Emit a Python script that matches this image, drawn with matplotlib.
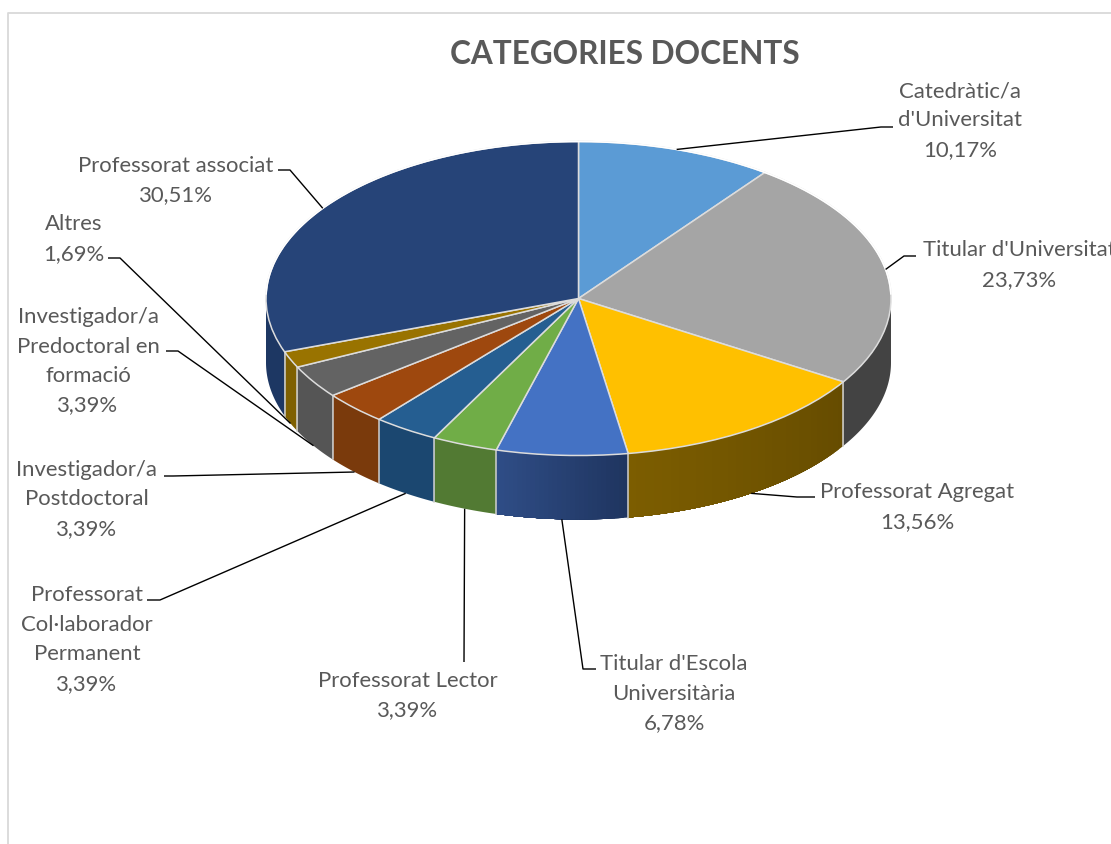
import numpy as np
import matplotlib
matplotlib.use('Agg')
import matplotlib.pyplot as plt
from matplotlib.colors import to_rgb

W, H = 1111, 845

categories = ['Catedràtic/a\nd\'Universitat', 'Titular d\'Universitat', 'Professorat Agregat',
              'Titular d\'Escola\nUniversitària', 'Professorat Lector',
              'Professorat\nCol·laborador\nPermanent', 'Investigador/a\nPostdoctoral',
              'Investigador/a\nPredoctoral en\nformació', 'Altres', 'Professorat associat']
values = [10.17, 23.73, 13.56, 6.78, 3.39, 3.39, 3.39, 3.39, 1.69, 30.51]
value_labels = ['10,17%', '23,73%', '13,56%', '6,78%', '3,39%', '3,39%', '3,39%', '3,39%', '1,69%', '30,51%']

top_colors = ['#5B9BD5', '#A5A5A5', '#FFC000', '#4472C4', '#70AD47',
              '#255E91', '#9E480E', '#636363', '#997300', '#264478']
# wall colours, right end and left end of each slice's side
wall_right = ['#37608a', '#434343', '#664c00', '#1f3560', '#527a33',
              '#1b4770', '#7a3a0c', '#555555', '#7f6000', '#1d3763']
wall_left = ['#37608a', '#434343', '#7c5d00', '#2f4d86', '#527a33',
             '#1b4770', '#7a3a0c', '#555555', '#7f6000', '#1d3763']

# pie geometry in picture pixels
cx, cy, rx, ry, depth = 578.5, 299.5, 312.5, 157, 64

# x centre, y of each line
label_pos = [(960, [90, 119, 149]), (1019, [249, 279]), (917, [491, 521]),
             (674, [663, 693, 722]), (408, [680, 709]), (87, [594, 624, 653, 683]),
             (87, [469, 498, 528]), (88, [316, 346, 375, 404]), (74, [223, 253]), (176, [165, 194])]
# leader line after it leaves the slice
leader_pts = [[(881, 128), (893, 128)], [(904, 257), (916, 257)], [(797, 498), (815, 498)],
              [(583, 670), (596, 670)], [(464, 663)], [(160, 601), (147, 601)],
              [(173, 477), (164, 477)], [(178, 352), (166, 352)], [(120, 259), (108, 259)],
              [(290, 171), (278, 171)]]

plt.rcParams['font.family'] = ['Lato', 'DejaVu Sans']
fig = plt.figure(figsize=(W / 100, H / 100), dpi=100, facecolor='white')

# the pie axes covers exactly the top ellipse
ax = fig.add_axes([(cx - rx) / W, 1 - (cy + ry) / H, 2 * rx / W, 2 * ry / H])
ax.pie(values, colors=top_colors, startangle=90, counterclock=False, radius=1,
       wedgeprops={'edgecolor': '#dcdcdc', 'linewidth': 1.1, 'zorder': 5})
ax.set_aspect('auto')
ax.set_xlim(-1, 1)
ax.set_ylim(-1, 1)
d = depth / ry

fractions = np.array(values) / sum(values)
edges = np.concatenate([[0], np.cumsum(fractions)]) * 2 * np.pi
for i in range(len(values)):
    a0 = max(edges[i], np.pi / 2)
    a1 = min(edges[i + 1], 3 * np.pi / 2)
    if a1 <= a0:
        continue
    c0, c1 = np.array(to_rgb(wall_right[i])), np.array(to_rgb(wall_left[i]))
    n = 30 if wall_right[i] != wall_left[i] else 1
    steps = np.linspace(a0, a1, n + 1)
    # each strip runs to the slice end and the next paints over it, so no seams
    for j in range(n):
        t = np.linspace(steps[j], a1, 80)
        px = np.concatenate([np.sin(t), np.sin(t[::-1])])
        py = np.concatenate([np.cos(t), np.cos(t[::-1]) - d])
        col = c0 + (c1 - c0) * j / max(n - 1, 1)
        ax.fill(px, py, color=col, lw=0, clip_on=False, zorder=2)
    # separators between the side faces
    if np.pi / 2 < edges[i + 1] < 3 * np.pi / 2:
        sx, sy = np.sin(edges[i + 1]), np.cos(edges[i + 1])
        ax.plot([sx, sx], [sy, sy - d], color='#d0d0d0', lw=1.1, clip_on=False, zorder=3)

# no visible bevel on the back rim
back = np.linspace(-np.pi / 2 + 0.03, np.pi / 2 - 0.03, 200)
ax.plot(np.sin(back), np.cos(back), color='white', lw=1.2, clip_on=False, zorder=6)

# overlay in pixels for text, leaders and chart frame
ov = fig.add_axes([0, 0, 1, 1], facecolor='none')
ov.set_xlim(0, W)
ov.set_ylim(H, 0)
ov.axis('off')

ov.plot([8, 8, W], [H, 14, 14], color='#d9d9d9', lw=1.3)
ov.text(625, 54, 'CATEGORIES DOCENTS', fontsize=22.7, fontweight='bold', color='#595959',
        ha='center', va='center')

mid = (edges[:-1] + edges[1:]) / 2
for i, name in enumerate(categories):
    tip_x = cx + rx * np.sin(mid[i])
    tip_y = cy - ry * np.cos(mid[i])
    if np.pi / 2 < mid[i] < 3 * np.pi / 2:
        tip_y += depth
    xs = [tip_x] + [p[0] for p in leader_pts[i]]
    ys = [tip_y] + [p[1] for p in leader_pts[i]]
    ov.plot(xs, ys, color='black', lw=1.0, solid_capstyle='butt')

    x, ypos = label_pos[i]
    lines = name.split('\n') + [value_labels[i]]
    for line, y in zip(lines, ypos):
        ov.text(x, y + 1.5, line, fontsize=15.9, color='#595959', ha='center', va='center')

fig.savefig('out.png', dpi=100)
